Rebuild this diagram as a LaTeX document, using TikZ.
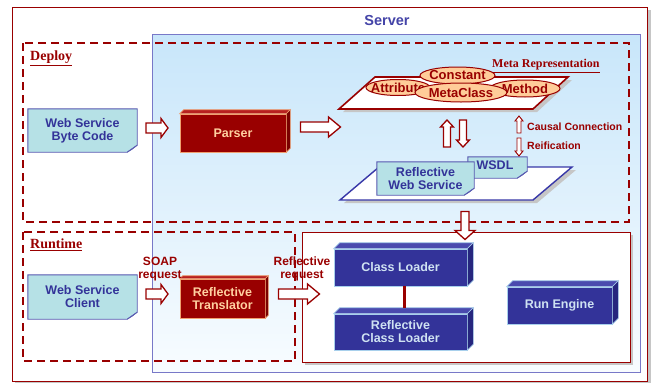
\documentclass[tikz,border=0pt]{standalone}
\usepackage{fontspec}
\setmainfont{Liberation Sans}
\newfontfamily\serifbf{Liberation Serif}
\usetikzlibrary{shapes.geometric,calc}
\definecolor{dred}{HTML}{990000}
\definecolor{redge}{HTML}{F0A070}
\definecolor{redtop}{HTML}{B82020}
\definecolor{redside}{HTML}{7A0000}
\definecolor{peachtext}{HTML}{FFD0A0}
\definecolor{navy}{HTML}{333399}
\definecolor{navytop}{HTML}{4A4AAE}
\definecolor{navyside}{HTML}{26267E}
\definecolor{bedge}{HTML}{A8D0EC}
\definecolor{lbtext}{HTML}{CFE2F2}
\definecolor{notefill}{HTML}{B6E1E6}
\definecolor{notefold}{HTML}{8FB8D8}
\definecolor{noteline}{HTML}{5858B0}
\definecolor{notetext}{HTML}{333399}
\definecolor{peach}{HTML}{FFCC99}
\definecolor{skytop}{HTML}{C8E6FA}
\definecolor{skybot}{HTML}{F8FCFF}
\definecolor{panelline}{HTML}{7878C8}
\definecolor{servertext}{HTML}{4444A8}
\definecolor{planeblue}{HTML}{3838A8}
\pgfdeclarelayer{back}
\pgfdeclarelayer{mid}
\pgfsetlayers{back,mid,main}
\newcommand\notedraw[1]{%
  \begin{pgfonlayer}{mid}
    \path[notestyle] (#1.north west) -- (#1.north east) -- ([yshift=7pt]#1.south east)
      -- ([xshift=-10pt]#1.south east) -- (#1.south west) -- cycle;
    \path[fold] ([yshift=7pt]#1.south east) -- ([xshift=-5pt,yshift=3pt]#1.south east)
      -- ([xshift=-10pt]#1.south east) -- cycle;
  \end{pgfonlayer}}
\newcommand\boxfaces[5]{%
  \filldraw[fill=#3, draw=#5, line width=0.6pt] (#1.north west) -- ([xshift=#2pt,yshift=#2pt]#1.north west)
    -- ([xshift=#2pt,yshift=#2pt]#1.north east) -- (#1.north east) -- cycle;
  \filldraw[fill=#4, draw=#5, line width=0.6pt] (#1.north east) -- ([xshift=#2pt,yshift=#2pt]#1.north east)
    -- ([xshift=#2pt,yshift=#2pt]#1.south east) -- (#1.south east) -- cycle;}
% hollow block arrow: options, cx, cy, length, half shaft, half head, head length, angle
\newcommand\barrow[8]{%
  \begin{scope}[shift={(#2,#3)}, rotate=#8]
    \path[blockarrow,#1] ({-#4/2},{-#5}) -- ({#4/2-#7},{-#5}) -- ({#4/2-#7},{-#6}) -- ({#4/2},0)
      -- ({#4/2-#7},{#6}) -- ({#4/2-#7},{#5}) -- ({-#4/2},{#5}) -- cycle;
  \end{scope}}
\begin{document}
\begin{tikzpicture}[x=1pt,y=-1pt,
  bf/.style={font=\bfseries\fontsize{12.5}{14}\selectfont},
  notestyle/.style={fill=notefill, draw=noteline, line width=0.9pt},
  fold/.style={fill=notefold, draw=noteline, line width=0.6pt},
  note/.style={bf, text=notetext, align=center, inner sep=0pt},
  redbox/.style={bf, text=peachtext, fill=dred, draw=redge, line width=0.6pt, align=center, inner sep=0pt},
  bluebox/.style={bf, text=lbtext, fill=navy, draw=bedge, line width=0.6pt, align=center, inner sep=0pt},
  oval/.style={ellipse, fill=peach, draw=dred, line width=1pt, inner sep=0pt},
  ovaltext/.style={font=\bfseries\fontsize{13}{14}\selectfont, text=dred, inner sep=0pt},
  blockarrow/.style={draw=dred, fill=white, line width=1.3pt, line join=miter},
  dashbox/.style={draw=dred, line width=1.8pt, dash pattern=on 8pt off 5pt},
  sectlabel/.style={font=\serifbf\bfseries\fontsize{14}{16}\selectfont, text=dred, anchor=west, inner sep=0pt},
  smalllabel/.style={font=\bfseries\fontsize{10.5}{12}\selectfont, text=dred, anchor=west, inner sep=0pt},
  reqlabel/.style={font=\bfseries\fontsize{12}{12.5}\selectfont, text=dred, align=center, inner sep=0pt},
  shadowfill/.style={fill=gray!45}
]
\useasboundingbox (0,0) rectangle (655,383);
\begin{pgfonlayer}{back}
  % outer frame
  \fill[shadowfill] (647,10) rectangle (651,383);
  \fill[shadowfill] (15,381) rectangle (651,383);
  \draw[fill=white, draw=dred, line width=0.8pt] (12,7) rectangle (647,381);
  % server panel
  \shade[top color=skytop, bottom color=skybot] (152,34) rectangle (640,372);
  \draw[panelline, line width=1pt] (152,34) rectangle (640,372);
  % dashed regions
  \draw[dashbox] (23,43) rectangle (629,222);
  \draw[dashbox] (23,232) rectangle (295,361);
  % runtime engine box
  \fill[shadowfill] (305,235) rectangle (633,365);
  \draw[fill=white, draw=dred, line width=0.8pt] (302,232) rectangle (630,362);
  % meta representation plane
  \fill[shadowfill, shift={(4,3)}] (339,109) -- (533,109) -- (568,77) -- (375,77) -- cycle;
  \draw[fill=white, draw=dred, line width=1.6pt] (339,109) -- (533,109) -- (568,77) -- (375,77) -- cycle;
  % reflective web service plane
  \fill[shadowfill, shift={(4,3)}] (340,200) -- (533,200) -- (572,167) -- (379,167) -- cycle;
  \draw[fill=white, draw=planeblue, line width=1.4pt] (340,200) -- (533,200) -- (572,167) -- (379,167) -- cycle;
\end{pgfonlayer}

% labels
\node[font=\bfseries\fontsize{14.5}{16}\selectfont, text=servertext, inner sep=0pt] (server) at (387,21) {Server};
\node[sectlabel] (deploy) at (30,58) {\underline{Deploy}};
\node[sectlabel] (runtime) at (30,245) {\underline{Runtime}};

% notes
\node[note, minimum width=109pt, minimum height=43pt] (wsbc) at (82.5,130.5) {Web Service\\[-1pt]Byte Code};
\notedraw{wsbc}
\node[note, minimum width=109pt, minimum height=44pt] (wsc) at (82.5,297) {Web Service\\[-1pt]Client};
\notedraw{wsc}
\node[note, minimum width=59pt, minimum height=21pt] (wsdl) at (497.5,167.5) {};
\notedraw{wsdl}
\node[note] (wsdltext) at (495,165) {WSDL};
\node[note, minimum width=97pt, minimum height=33pt] (rws) at (425.5,178.5) {Reflective\\[-1pt]Web Service};
\notedraw{rws}

% 3D boxes
\node[redbox, minimum width=106pt, minimum height=38pt] (parser) at (233,133) {Parser};
\boxfaces{parser}{4}{redtop}{redside}{redge}
\node[redbox, minimum width=85pt, minimum height=39pt] (rt) at (222.5,298.5) {Reflective\\[-1pt]Translator};
\boxfaces{rt}{3}{redtop}{redside}{redge}
\node[bluebox, minimum width=133pt, minimum height=37pt] (cl) at (400.5,267.5) {Class Loader};
\boxfaces{cl}{6}{navytop}{navyside}{bedge}
\node[bluebox, minimum width=133pt, minimum height=36pt] (rcl) at (400.5,332) {Reflective\\[-1pt]Class Loader};
\boxfaces{rcl}{6}{navytop}{navyside}{bedge}
\node[bluebox, minimum width=105pt, minimum height=37pt] (re) at (559.5,305.5) {Run Engine};
\boxfaces{re}{6}{navytop}{navyside}{bedge}
\draw[dred, line width=2.2pt] ([xshift=4pt]cl.south) -- ([xshift=4pt,yshift=6pt]rcl.north);

% meta representation ovals
\node[oval, minimum width=64pt, minimum height=16pt, label={[ovaltext]center:Attribute}] (attr) at (398,87.5) {};
\node[oval, minimum width=70pt, minimum height=17pt, label={[ovaltext]center:Method}] (meth) at (525,88.5) {};
\node[oval, minimum width=75pt, minimum height=17pt, label={[ovaltext]center:Constant}] (const) at (457.5,75.5) {};
\node[oval, minimum width=92pt, minimum height=19pt, label={[ovaltext]center:MetaClass}] (mc) at (461,92.5) {};
\node[font=\serifbf\bfseries\fontsize{12}{14}\selectfont, text=dred, anchor=west, inner sep=0pt] (metarep) at (492,66) {\underline{Meta Representation}};

% block arrows
\barrow{}{157}{128}{22}{5}{9.5}{7}{0}
\barrow{}{320.5}{127}{40}{5}{10}{12}{0}
\barrow{}{447}{133.5}{27}{3.5}{6.5}{7}{90}
\barrow{}{463}{133.5}{27}{3.5}{6.5}{7}{-90}
\barrow{line width=0.9pt}{519}{124.5}{17}{2}{4}{5}{90}
\barrow{line width=0.9pt}{519}{147}{18}{2}{4}{5}{-90}
\barrow{}{465}{225.5}{28}{4}{10}{9}{-90}
\barrow{}{157}{294}{22}{5}{9.5}{7}{0}
\barrow{}{299}{294}{41}{5}{10}{12}{0}

\node[smalllabel] (causal) at (527,127) {Causal Connection};
\node[smalllabel] (reif) at (527,146) {Reification};
\node[reqlabel] (soap) at (160,269) {SOAP\\request};
\node[reqlabel] (reflreq) at (302,269) {Reflective\\request};
\end{tikzpicture}
\end{document}
